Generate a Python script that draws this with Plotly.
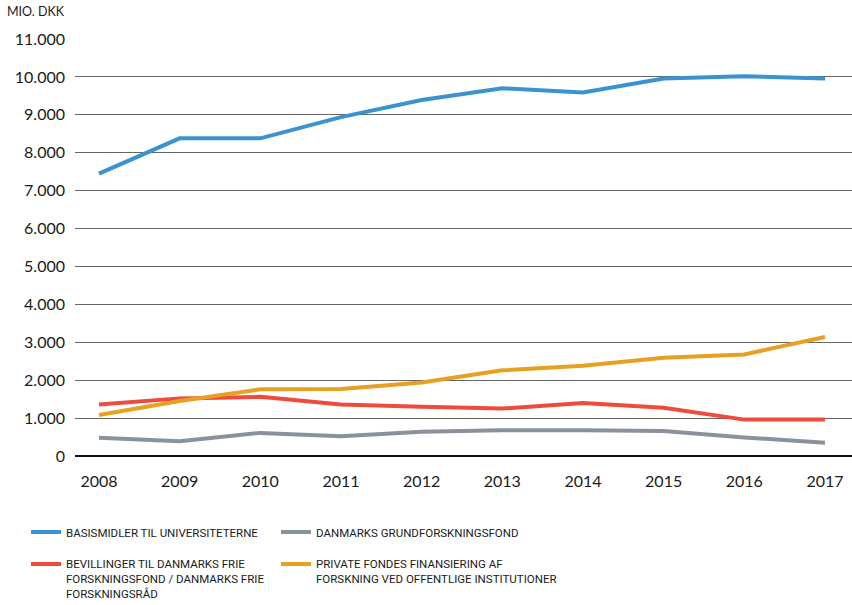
import plotly.graph_objects as go

years = [2008, 2009, 2010, 2011, 2012, 2013, 2014, 2015, 2016, 2017]
basismidler = [7450, 8380, 8380, 8940, 9390, 9700, 9590, 9960, 10020, 9960]
grundforskningsfond = [480, 390, 610, 520, 640, 680, 680, 660, 490, 350]
frie_forskningsfond = [1360, 1520, 1560, 1360, 1300, 1250, 1400, 1270, 960, 960]
private_fonde = [1080, 1450, 1760, 1770, 1940, 2260, 2380, 2590, 2680, 3140]

y_ticks = [0, 1000, 2000, 3000, 4000, 5000, 6000, 7000, 8000, 9000, 10000, 11000]

names = {
    "blue": "BASISMIDLER TIL UNIVERSITETERNE",
    "gray": "DANMARKS GRUNDFORSKNINGSFOND",
    "red": "BEVILLINGER TIL DANMARKS FRIE<br>FORSKNINGSFOND / DANMARKS FRIE<br>FORSKNINGSRÅD",
    "orange": "PRIVATE FONDES FINANSIERING AF<br>FORSKNING VED OFFENTLIGE INSTITUTIONER",
}
colors = {"blue": "#3a92d0", "gray": "#89929a", "red": "#ef4a3d", "orange": "#e7a020"}

AX_FONT = "Lato, 'Open Sans', sans-serif"
LEG_FONT = "Roboto, sans-serif"

W, H = 852, 605
PL, PR, PT, PB = 75, 852, 39, 456
PW, PH = PR - PL, PB - PT

fig = go.Figure()
series = [
    ("blue", basismidler, "legend", "g1"),
    ("red", frie_forskningsfond, "legend", "g2"),
    ("gray", grundforskningsfond, "legend2", "g3"),
    ("orange", private_fonde, "legend2", "g4"),
]
for key, vals, leg, grp in series:
    fig.add_trace(go.Scatter(
        x=years, y=vals, mode="lines", name=names[key],
        line=dict(color=colors[key], width=4),
        legend=leg, legendgroup=grp, hoverinfo="skip",
    ))

legend_common = dict(
    orientation="v", xref="paper", yref="paper", yanchor="top", xanchor="left",
    font=dict(family=LEG_FONT, size=11.5, color="#1a1a1a"),
    bgcolor="rgba(0,0,0,0)", valign="top", tracegroupgap=13, itemwidth=30,
)

LEG_TOP = 518
fig.update_layout(
    width=W, height=H,
    margin=dict(l=PL, r=W - PR, t=PT, b=H - PB, autoexpand=False),
    paper_bgcolor="white", plot_bgcolor="white",
    separators=",.",
    showlegend=True,
    legend=dict(x=(26 - PL) / PW, y=(PB - LEG_TOP) / PH, **legend_common),
    legend2=dict(x=(276 - PL) / PW, y=(PB - LEG_TOP) / PH, **legend_common),
    xaxis=dict(
        range=[2007.703, 2017.335], tickmode="array", tickvals=years,
        ticktext=[str(y) for y in years], showgrid=False, zeroline=False,
        showline=False, ticks="", ticklabelstandoff=14, tickangle=0,
        tickfont=dict(family=AX_FONT, size=16, color="#1a1a1a"),
        fixedrange=True,
    ),
    yaxis=dict(
        range=[0, 11000], tickmode="array", tickvals=y_ticks, tickformat=",d",
        showgrid=True, gridcolor="#666666", gridwidth=1.4,
        zeroline=True, zerolinecolor="#111111", zerolinewidth=1.5,
        showline=False, ticks="", ticklabelstandoff=9,
        tickfont=dict(family=AX_FONT, size=16, color="#1a1a1a"),
        fixedrange=True,
    ),
    annotations=[dict(
        text="MIO. DKK", xref="paper", yref="paper", x=(5 - PL) / PW, y=(PB - 12) / PH,
        xanchor="left", yanchor="middle", showarrow=False,
        font=dict(family=AX_FONT, size=12.5, color="#1a1a1a"),
    )],
)

fig.write_html(
    "out.html",
    config={"displayModeBar": False},
    post_script="document.body.style.margin='0';",
)
